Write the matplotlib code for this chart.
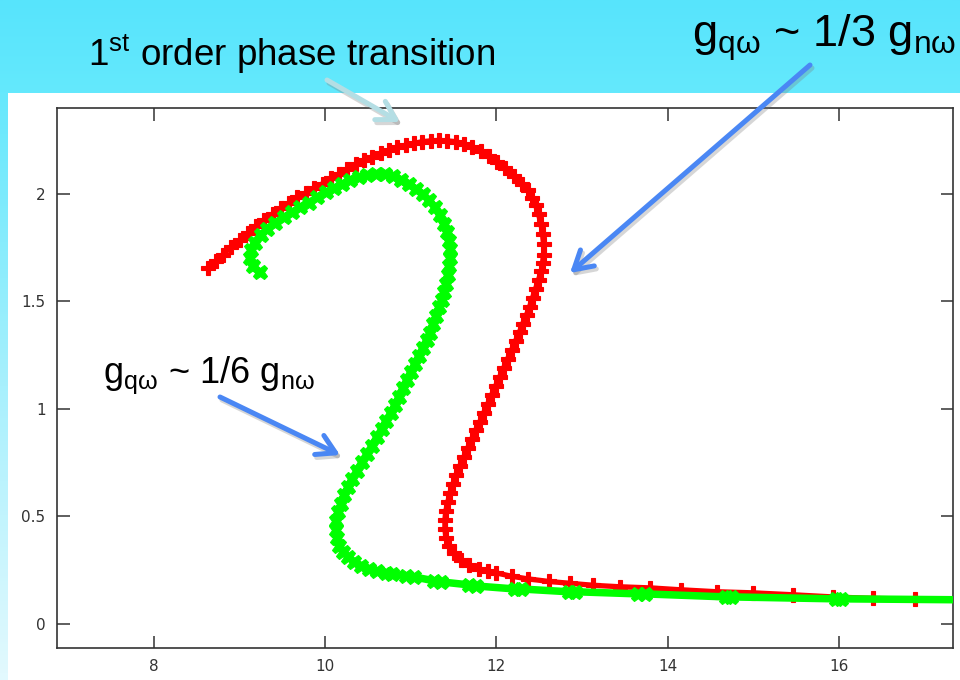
import matplotlib
matplotlib.use('Agg')
import matplotlib.pyplot as plt
import numpy as np
from matplotlib.colors import LinearSegmentedColormap

plt.rcParams['mathtext.fontset'] = 'custom'
plt.rcParams['mathtext.rm'] = 'Liberation Sans'
plt.rcParams['mathtext.it'] = 'Liberation Sans:italic'
plt.rcParams['mathtext.bf'] = 'Liberation Sans:bold'

# ---------------- data ----------------
red_x = [8.631, 8.724, 8.809, 8.899, 9.003, 9.097, 9.198, 9.294, 9.391, 9.492,
         9.585, 9.678, 9.779, 9.876, 9.972, 10.073, 10.166, 10.259, 10.360, 10.457,
         10.553, 10.655, 10.748, 10.841, 10.942, 11.038, 11.135, 11.236, 11.329, 11.422,
         11.523, 11.620, 11.716, 11.817, 11.910, 12.003, 12.105, 12.201, 12.298, 12.364,
         12.414, 12.457, 12.492, 12.521, 12.538, 12.550, 12.550, 12.538, 12.523,
         12.492, 12.457, 12.422, 12.387, 12.352, 12.306, 12.271, 12.224, 12.178, 12.131,
         12.085, 12.038, 11.992, 11.945, 11.899, 11.852, 11.806, 11.759, 11.713, 11.666,
         11.620, 11.573, 11.527, 11.492, 11.457, 11.434, 11.410, 11.399, 11.399, 11.410,
         11.445, 11.503, 11.585, 11.678, 11.794, 11.899, 11.992, 12.178, 12.364, 12.608,
         12.864, 13.131, 13.445, 13.794, 14.155, 14.573, 14.992, 15.457, 15.922, 16.399,
         16.887]
red_y = [1.655, 1.685, 1.717, 1.750, 1.783, 1.815, 1.849, 1.880, 1.907, 1.932,
         1.958, 1.983, 2.005, 2.025, 2.047, 2.071, 2.093, 2.115, 2.136, 2.155,
         2.172, 2.188, 2.202, 2.216, 2.226, 2.234, 2.242, 2.246, 2.248, 2.246,
         2.242, 2.232, 2.217, 2.197, 2.175, 2.148, 2.118, 2.083, 2.047, 2.015,
         1.981, 1.946, 1.904, 1.857, 1.811, 1.764, 1.717, 1.680, 1.640,
         1.601, 1.559, 1.517, 1.475, 1.438, 1.396, 1.359, 1.317, 1.275, 1.233,
         1.191, 1.149, 1.108, 1.066, 1.024, 0.982, 0.940, 0.903, 0.861, 0.819,
         0.777, 0.735, 0.693, 0.651, 0.609, 0.568, 0.526, 0.484, 0.442, 0.400,
         0.363, 0.330, 0.297, 0.274, 0.256, 0.244, 0.237, 0.221, 0.209, 0.197,
         0.188, 0.179, 0.172, 0.167, 0.158, 0.149, 0.144, 0.135, 0.125, 0.118,
         0.115]

green_x = [9.236, 9.155, 9.120, 9.131, 9.178, 9.248, 9.329, 9.422, 9.527, 9.620,
           9.713, 9.817, 9.910, 10.015, 10.108, 10.201, 10.294, 10.399, 10.492, 10.597,
           10.701, 10.794, 10.887, 10.980, 11.062, 11.143, 11.213, 11.283, 11.341, 11.387,
           11.422, 11.445, 11.457, 11.457, 11.445, 11.434, 11.410, 11.387, 11.364, 11.329,
           11.294, 11.259, 11.224, 11.190, 11.143, 11.097, 11.050, 11.003, 10.957, 10.910,
           10.864, 10.817, 10.771, 10.713, 10.666, 10.608, 10.550, 10.492, 10.434, 10.376,
           10.317, 10.271, 10.224, 10.190, 10.155, 10.131, 10.131, 10.143, 10.166, 10.213,
           10.271, 10.341, 10.422, 10.515, 10.608, 10.713, 10.783, 10.945, 11.038, 11.271,
           11.352, 11.678, 11.759, 12.213, 12.283, 12.841, 12.922, 13.655, 13.736, 14.678,
           14.736, 15.957, 16.015, 17.608]
green_y = [1.634, 1.662, 1.699, 1.736, 1.773, 1.806, 1.838, 1.866, 1.890, 1.913,
           1.936, 1.959, 1.983, 2.006, 2.025, 2.043, 2.062, 2.076, 2.085, 2.090,
           2.090, 2.081, 2.062, 2.043, 2.020, 1.997, 1.969, 1.936, 1.899, 1.857,
           1.820, 1.778, 1.741, 1.699, 1.662, 1.624, 1.582, 1.545, 1.508, 1.471,
           1.429, 1.392, 1.354, 1.322, 1.284, 1.247, 1.210, 1.173, 1.135, 1.098,
           1.056, 1.019, 0.982, 0.945, 0.907, 0.870, 0.828, 0.791, 0.754, 0.712,
           0.675, 0.637, 0.600, 0.558, 0.521, 0.479, 0.437, 0.400, 0.363, 0.335,
           0.311, 0.288, 0.270, 0.256, 0.246, 0.237, 0.232, 0.223, 0.218, 0.200,
           0.195, 0.181, 0.176, 0.162, 0.162, 0.149, 0.149, 0.139, 0.139, 0.125,
           0.125, 0.116, 0.116, 0.111]

x_ticks = [8, 10, 12, 14, 16]
x_tick_labels = ['8', '10', '12', '14', '16']
y_ticks = [0, 0.5, 1, 1.5, 2]
y_tick_labels = ['0', '0.5', '1', '1.5', '2']
x_limits = (6.87, 17.33)
y_limits = (-0.114, 2.40)

label_transition = r'1$^{\mathrm{st}}$ order phase transition'
label_third = r'g$_{\mathrm{qω}}$ ~ 1/3 g$_{\mathrm{nω}}$'
label_sixth = r'g$_{\mathrm{qω}}$ ~ 1/6 g$_{\mathrm{nω}}$'

# ---------------- figure ----------------
W, H = 960, 680
fig = plt.figure(figsize=(W / 100, H / 100), dpi=100, facecolor='white')

# background decoration (slide band + left strip)
bg = fig.add_axes([0, 0, 1, 1], zorder=0)
bg.axis('off')
band_cmap = LinearSegmentedColormap.from_list('band', ['#57e4fc', '#64e9fd'])
strip_cmap = LinearSegmentedColormap.from_list('strip', ['#66e8fc', '#a8f0fd', '#e2f9fe'])
grad = np.linspace(0, 1, 64)[:, None]
bg.imshow(grad, cmap=band_cmap, extent=(0, W, 93, 0), aspect='auto', interpolation='bilinear')
bg.imshow(grad, cmap=strip_cmap, extent=(0, 8, H, 93), aspect='auto', interpolation='bilinear')
bg.set_xlim(0, W)
bg.set_ylim(H, 0)

# main plot
ax = fig.add_axes([56.7 / W, 1 - 648.3 / H, (953.3 - 56.7) / W, (648.3 - 107.7) / H], zorder=2)
ax.patch.set_alpha(0)
ax.plot(red_x, red_y, color='#ff0000', lw=3.8, marker='P', ms=9.5, mew=0.8,
        mec='#ff0000', solid_joinstyle='round', zorder=3)
ax.plot(green_x, green_y, color='#00ff00', lw=5.4, marker='X', ms=10.5, mew=0.8,
        mec='#00ff00', solid_joinstyle='round', zorder=4)
ax.set_xlim(*x_limits)
ax.set_ylim(*y_limits)
ax.set_xticks(x_ticks)
ax.set_xticklabels(x_tick_labels)
ax.set_yticks(y_ticks)
ax.set_yticklabels(y_tick_labels)
ax.tick_params(direction='in', length=9, width=1.1, color='#333333', top=True, right=True,
               labelsize=11, labelcolor='#333333', pad=8)
for s in ax.spines.values():
    s.set_color('#333333')
    s.set_linewidth(1.2)

# overlay with annotations in pixel coordinates
ov = fig.add_axes([0, 0, 1, 1], zorder=5)
ov.axis('off')
ov.patch.set_alpha(0)
ov.set_xlim(0, W)
ov.set_ylim(H, 0)

ov.text(88, 66, label_transition, fontsize=26.5, family='Liberation Sans', color='black', va='baseline', ha='left')
ov.text(692, 47, label_third, fontsize=32.5, family='Liberation Sans', color='black', va='baseline', ha='left')
ov.text(103, 383, label_sixth, fontsize=26, family='Liberation Sans', color='black', va='baseline', ha='left')

def arrow(tail, tip, color):
    style = '->,head_length=0.65,head_width=0.38'
    ov.annotate('', xy=(tip[0] + 2, tip[1] + 3), xytext=(tail[0] + 2, tail[1] + 3),
                arrowprops=dict(arrowstyle=style, lw=3.6, color='#7a7a7a', alpha=0.3,
                                mutation_scale=20, shrinkA=0, shrinkB=0,
                                capstyle='round', joinstyle='round'))
    ov.annotate('', xy=tip, xytext=tail,
                arrowprops=dict(arrowstyle=style, lw=3.6, color=color,
                                mutation_scale=20, shrinkA=0, shrinkB=0,
                                capstyle='round', joinstyle='round'))

arrow((327, 80), (400, 122), '#b4dee4')
arrow((810, 65), (570, 273), '#4a87f4')
arrow((220, 397), (340, 455), '#4a87f4')

fig.savefig('out.png', dpi=100)
